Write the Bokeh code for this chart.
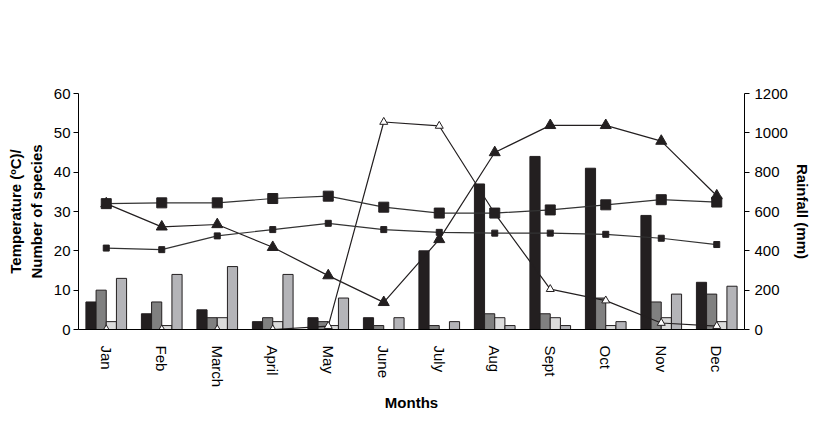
from bokeh.plotting import figure
from bokeh.models import (FactorRange, Range1d, LinearAxis, CategoricalAxis,
                          SingleIntervalTicker, Legend, LegendItem, ColumnDataSource)
from bokeh.transform import dodge
from bokeh.embed import file_html
from bokeh.resources import INLINE

# ---- data ----
months = ["Jan", "Feb", "March", "April", "May", "June", "July", "Aug", "Sept", "Oct", "Nov", "Dec"]
herbs = [7, 4, 5, 2, 3, 3, 20, 37, 44, 41, 29, 12]
shrubs = [10, 7, 3, 3, 2, 1, 1, 4, 4, 8, 7, 9]
climber = [2, 1, 3, 2, 1, 0, 0, 3, 3, 1, 3, 2]
trees = [13, 14, 16, 14, 8, 3, 2, 1, 1, 2, 9, 11]
rainfall = [0, 0, 0, 0, 17, 1055, 1035, 590, 205, 147, 33, 17]
endemics = [32, 26.1, 26.7, 20.9, 13.7, 6.9, 22.9, 45, 51.9, 51.9, 47.9, 34]
temp_max = [32, 32.2, 32.2, 33.3, 33.9, 31.1, 29.6, 29.6, 30.4, 31.7, 33, 32.4]
temp_min = [20.7, 20.3, 23.8, 25.4, 27, 25.4, 24.7, 24.5, 24.5, 24.2, 23.2, 21.6]

FONT = "Liberation Sans"
FS = "15px"

src = ColumnDataSource(dict(months=months, herbs=herbs, shrubs=shrubs, climber=climber,
                            trees=trees, rainfall=rainfall, endemics=endemics,
                            temp_max=temp_max, temp_min=temp_min))

p = figure(width=813, height=414, x_range=FactorRange(*months), y_range=Range1d(0, 60),
           x_axis_location=None, y_axis_location=None, output_backend="svg",
           toolbar_location=None, min_border_left=78, min_border_right=66,
           min_border_top=93, min_border_bottom=82)
p.extra_y_ranges = {"rain": Range1d(0, 1200)}
p.outline_line_color = None
p.grid.visible = False
p.background_fill_color = "white"


def style_axis(ax):
    ax.axis_line_color = "black"
    ax.axis_line_width = 1
    ax.major_tick_line_color = "black"
    ax.major_tick_in = 0
    ax.major_tick_out = 5
    ax.minor_tick_line_color = None
    ax.major_label_text_font = FONT
    ax.major_label_text_font_size = FS
    ax.major_label_text_color = "black"
    ax.axis_label_text_font = FONT
    ax.axis_label_text_font_size = FS
    ax.axis_label_text_font_style = "bold"
    ax.axis_label_text_color = "black"


# left axis
yl = LinearAxis(ticker=SingleIntervalTicker(interval=10),
                axis_label="Temperature (ºC)/\nNumber of species")
style_axis(yl)
yl.major_label_standoff = 3
yl.axis_label_standoff = 6
p.add_layout(yl, "left")

# right axis
yr = LinearAxis(y_range_name="rain", ticker=SingleIntervalTicker(interval=200),
                axis_label="Rainfall (mm)")
style_axis(yr)
yr.major_label_standoff = 5
yr.axis_label_standoff = 3
p.add_layout(yr, "right")

# month axis
xc = CategoricalAxis()
style_axis(xc)
xc.major_tick_line_color = None
xc.major_tick_out = 0
xc.major_label_orientation = "vertical"
xc.major_label_standoff = 16
xc.axis_label = "Months"
xc.axis_label_standoff = 4
p.add_layout(xc, "below")

# bars
bw = 0.183
offs = [-0.275, -0.0917, 0.0917, 0.275]
bar_specs = [("herbs", "#231f20"), ("shrubs", "#808080"), ("climber", "#dcdcdc"), ("trees", "#b4b4b8")]
bar_r = []
for (col, color), off in zip(bar_specs, offs):
    r = p.vbar(x=dodge("months", off, range=p.x_range), top=col, width=bw, bottom=0,
               source=src, fill_color=color, line_color="#231f20", line_width=1)
    bar_r.append(r)

# rainfall
rl = p.line("months", "rainfall", source=src, y_range_name="rain", line_color="#231f20", line_width=1.2)
rs = p.scatter("months", "rainfall", source=src, y_range_name="rain", marker="triangle",
               size=8, fill_color="white", line_color="#231f20", line_width=1)
# endemics
el = p.line("months", "endemics", source=src, line_color="#231f20", line_width=1.2)
es = p.scatter("months", "endemics", source=src, marker="triangle", size=11,
               fill_color="#231f20", line_color="#231f20")
# temp min
nl = p.line("months", "temp_min", source=src, line_color="#333333", line_width=1.2)
ns = p.scatter("months", "temp_min", source=src, marker="square", size=6,
               fill_color="#231f20", line_color="#231f20")
# temp max
xl = p.line("months", "temp_max", source=src, line_color="#333333", line_width=1.2)
xs = p.scatter("months", "temp_max", source=src, marker="square", size=10,
               fill_color="#231f20", line_color="#231f20")

# one legend per row, placed in the free space above the plot area
rows = [
    ([("Herbs", [bar_r[0]]), ("Shrubs", [bar_r[1]]), ("Climber", [bar_r[2]])], 313),
    ([("Trees", [bar_r[3]]), ("Rainfall", [rl, rs]), ("Monthly phenology of endemics", [el, es])], 289),
    ([("Temp (max)", [xl, xs]), ("Temp (mini)", [nl, ns])], 265),
]
for row, ypos in rows:
    lg = Legend(items=[LegendItem(label=lab, renderers=rr) for lab, rr in row],
                orientation="horizontal", location=(37, ypos),
                glyph_width=32, glyph_height=15, label_height=17, label_width=137,
                label_standoff=4, spacing=7, padding=0, margin=0,
                border_line_color=None, background_fill_alpha=0,
                label_text_font=FONT, label_text_font_size=FS, label_text_color="black")
    p.add_layout(lg)

open("out.html", "w").write(file_html(p, INLINE))
